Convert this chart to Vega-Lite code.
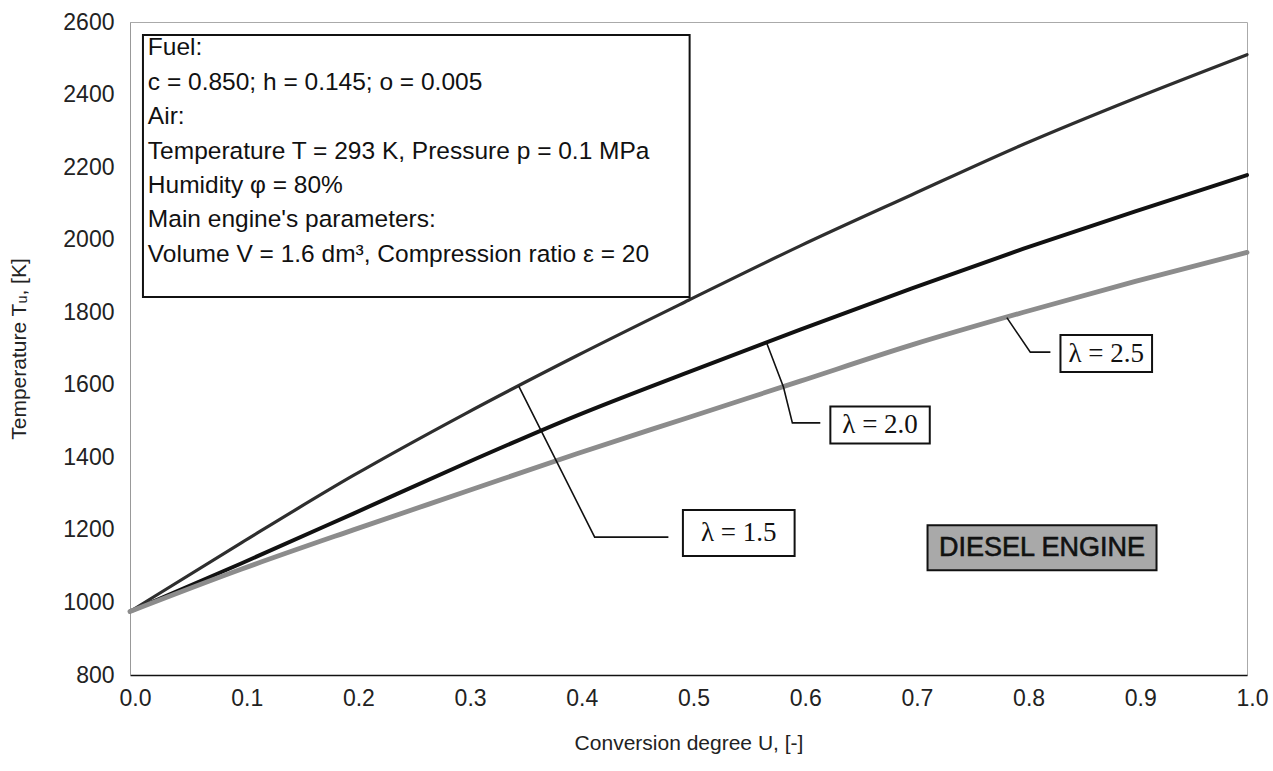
{
  "$schema": "https://vega.github.io/schema/vega-lite/v6.json",
  "width": 1117,
  "height": 653,
  "autosize": {"type": "none"},
  "padding": {"left": 130, "top": 22, "right": 26, "bottom": 96},
  "background": "white",
  "config": {
    "view": {"stroke": "#aaa", "strokeWidth": 1},
    "axis": {
      "labelFont": "Liberation Sans",
      "labelFontSize": 23,
      "labelColor": "#222",
      "titleFont": "Liberation Sans",
      "titleFontSize": 21,
      "titleFontWeight": "normal",
      "titleColor": "#222",
      "grid": false,
      "ticks": false
    }
  },
  "datasets": {
    "curves": [
      {"lam": "1.5", "U": 0.0, "T": 975}, {"lam": "1.5", "U": 0.1, "T": 1165}, {"lam": "1.5", "U": 0.2, "T": 1350},
      {"lam": "1.5", "U": 0.3, "T": 1520}, {"lam": "1.5", "U": 0.4, "T": 1680}, {"lam": "1.5", "U": 0.5, "T": 1833},
      {"lam": "1.5", "U": 0.6, "T": 1983}, {"lam": "1.5", "U": 0.7, "T": 2124}, {"lam": "1.5", "U": 0.8, "T": 2263},
      {"lam": "1.5", "U": 0.9, "T": 2390}, {"lam": "1.5", "U": 1.0, "T": 2510},
      {"lam": "2.0", "U": 0.0, "T": 975}, {"lam": "2.0", "U": 0.1, "T": 1108}, {"lam": "2.0", "U": 0.2, "T": 1245},
      {"lam": "2.0", "U": 0.3, "T": 1383}, {"lam": "2.0", "U": 0.4, "T": 1515}, {"lam": "2.0", "U": 0.5, "T": 1635},
      {"lam": "2.0", "U": 0.6, "T": 1752}, {"lam": "2.0", "U": 0.7, "T": 1866}, {"lam": "2.0", "U": 0.8, "T": 1975},
      {"lam": "2.0", "U": 0.9, "T": 2078}, {"lam": "2.0", "U": 1.0, "T": 2178},
      {"lam": "2.5", "U": 0.0, "T": 975}, {"lam": "2.5", "U": 0.1, "T": 1092}, {"lam": "2.5", "U": 0.2, "T": 1200},
      {"lam": "2.5", "U": 0.3, "T": 1305}, {"lam": "2.5", "U": 0.4, "T": 1410}, {"lam": "2.5", "U": 0.5, "T": 1510},
      {"lam": "2.5", "U": 0.6, "T": 1610}, {"lam": "2.5", "U": 0.7, "T": 1710}, {"lam": "2.5", "U": 0.8, "T": 1800},
      {"lam": "2.5", "U": 0.9, "T": 1885}, {"lam": "2.5", "U": 1.0, "T": 1965}
    ],
    "leaders": [
      {"id": "1.5", "ord": 1, "U": 0.348, "T": 1596}, {"id": "1.5", "ord": 2, "U": 0.416, "T": 1180}, {"id": "1.5", "ord": 3, "U": 0.482, "T": 1180},
      {"id": "2.0", "ord": 1, "U": 0.570, "T": 1715}, {"id": "2.0", "ord": 2, "U": 0.585, "T": 1594}, {"id": "2.0", "ord": 3, "U": 0.593, "T": 1495}, {"id": "2.0", "ord": 4, "U": 0.618, "T": 1495},
      {"id": "2.5", "ord": 1, "U": 0.785, "T": 1785}, {"id": "2.5", "ord": 2, "U": 0.806, "T": 1690}, {"id": "2.5", "ord": 3, "U": 0.824, "T": 1690}
    ],
    "lamboxes": [
      {"U": 0.495, "U2": 0.595, "T": 1128, "T2": 1255, "Uc": 0.545, "Tc": 1191, "label": "λ = 1.5"},
      {"U": 0.627, "U2": 0.716, "T": 1438, "T2": 1540, "Uc": 0.6715, "Tc": 1489, "label": "λ = 2.0"},
      {"U": 0.833, "U2": 0.915, "T": 1635, "T2": 1737, "Uc": 0.874, "Tc": 1686, "label": "λ = 2.5"}
    ],
    "diesel": [
      {"U": 0.714, "U2": 0.919, "T": 1089, "T2": 1213, "Uc": 0.8165, "Tc": 1151, "label": "DIESEL ENGINE"}
    ],
    "infobox": [
      {"U": 0.0116, "U2": 0.501, "T": 1842, "T2": 2564}
    ],
    "info": [
      {"U": 0.016, "T": 2528, "label": "Fuel:"},
      {"U": 0.016, "T": 2433, "label": "c = 0.850; h = 0.145; o = 0.005"},
      {"U": 0.016, "T": 2338, "label": "Air:"},
      {"U": 0.016, "T": 2243, "label": "Temperature T = 293 K, Pressure p = 0.1 MPa"},
      {"U": 0.016, "T": 2148, "label": "Humidity φ = 80%"},
      {"U": 0.016, "T": 2053, "label": "Main engine's parameters:"},
      {"U": 0.016, "T": 1958, "label": "Volume V = 1.6 dm³, Compression ratio ε = 20"}
    ]
  },
  "layer": [
    {
      "data": {"name": "curves"},
      "mark": {"type": "line", "strokeCap": "round", "interpolate": "monotone"},
      "encoding": {
        "x": {
          "field": "U", "type": "quantitative",
          "scale": {"domain": [0, 1], "nice": false, "zero": false},
          "axis": {"title": "Conversion degree U, [-]", "values": [0, 0.1, 0.2, 0.3, 0.4, 0.5, 0.6, 0.7, 0.8, 0.9, 1.0], "format": ".1f", "labelFlush": false, "labelOffset": 5, "labelPadding": 12, "titlePadding": 22, "domainColor": "#111", "domainWidth": 1.5}
        },
        "y": {
          "field": "T", "type": "quantitative",
          "scale": {"domain": [800, 2600], "nice": false, "zero": false},
          "axis": {"title": "Temperature Tᵤ, [K]", "values": [800, 1000, 1200, 1400, 1600, 1800, 2000, 2200, 2400, 2600], "format": "d", "labelPadding": 16, "titlePadding": 33, "domainColor": "#999", "domainWidth": 1}
        },
        "detail": {"field": "lam"},
        "color": {"field": "lam", "type": "nominal", "scale": {"domain": ["1.5", "2.0", "2.5"], "range": ["#2e2e2e", "#111111", "#8c8c8c"]}, "legend": null},
        "strokeWidth": {"field": "lam", "type": "nominal", "scale": {"domain": ["1.5", "2.0", "2.5"], "range": [3.2, 4.8, 2]}, "legend": null}
      }
    },
    {
      "data": {"name": "leaders"},
      "mark": {"type": "line", "color": "#111", "strokeWidth": 1.6},
      "encoding": {
        "x": {"field": "U", "type": "quantitative"},
        "y": {"field": "T", "type": "quantitative"},
        "detail": {"field": "id"},
        "order": {"field": "ord"}
      }
    },
    {
      "data": {"name": "infobox"},
      "mark": {"type": "rect", "fill": "white", "stroke": "#111", "strokeWidth": 2},
      "encoding": {
        "x": {"field": "U", "type": "quantitative"},
        "x2": {"field": "U2"},
        "y": {"field": "T", "type": "quantitative"},
        "y2": {"field": "T2"}
      }
    },
    {
      "data": {"name": "info"},
      "mark": {"type": "text", "align": "left", "baseline": "middle", "font": "Liberation Sans", "fontSize": 24.5, "color": "#111"},
      "encoding": {
        "x": {"field": "U", "type": "quantitative"},
        "y": {"field": "T", "type": "quantitative"},
        "text": {"field": "label"}
      }
    },
    {
      "data": {"name": "lamboxes"},
      "mark": {"type": "rect", "fill": "white", "stroke": "#111", "strokeWidth": 2},
      "encoding": {
        "x": {"field": "U", "type": "quantitative"},
        "x2": {"field": "U2"},
        "y": {"field": "T", "type": "quantitative"},
        "y2": {"field": "T2"}
      }
    },
    {
      "data": {"name": "lamboxes"},
      "mark": {"type": "text", "align": "center", "baseline": "middle", "font": "Liberation Serif", "fontSize": 27, "color": "#111"},
      "encoding": {
        "x": {"field": "Uc", "type": "quantitative"},
        "y": {"field": "Tc", "type": "quantitative"},
        "text": {"field": "label"}
      }
    },
    {
      "data": {"name": "diesel"},
      "mark": {"type": "rect", "fill": "#a9a9a9", "stroke": "#111", "strokeWidth": 2},
      "encoding": {
        "x": {"field": "U", "type": "quantitative"},
        "x2": {"field": "U2"},
        "y": {"field": "T", "type": "quantitative"},
        "y2": {"field": "T2"}
      }
    },
    {
      "data": {"name": "diesel"},
      "mark": {"type": "text", "align": "center", "baseline": "middle", "font": "Liberation Sans", "fontSize": 27, "color": "#111", "stroke": "#111", "strokeWidth": 0.6},
      "encoding": {
        "x": {"field": "Uc", "type": "quantitative"},
        "y": {"field": "Tc", "type": "quantitative"},
        "text": {"field": "label"}
      }
    }
  ]
}
